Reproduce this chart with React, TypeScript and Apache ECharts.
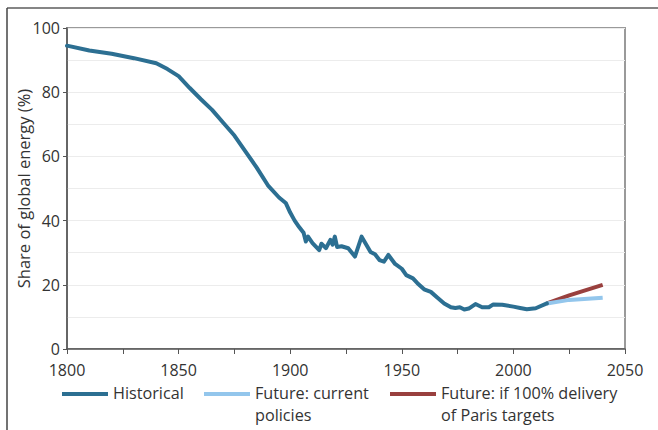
import React, { useEffect, useRef } from "react";
import * as echarts from "echarts";

const histYears = [1800, 1810, 1820, 1830, 1840, 1845, 1850, 1855, 1860, 1865, 1870, 1875, 1880, 1885, 1890, 1895, 1898, 1900, 1902, 1904, 1906, 1907, 1908, 1910, 1913, 1914, 1916, 1918, 1919, 1920, 1921, 1923, 1926, 1929, 1932, 1936, 1938, 1940, 1942, 1944, 1947, 1950, 1952, 1955, 1957, 1960, 1963, 1966, 1969, 1972, 1974, 1976, 1978, 1980, 1983, 1986, 1989, 1991, 1995, 2000, 2003, 2006, 2010, 2015];
const histValues = [94.5, 93, 92, 90.6, 89, 87.2, 85, 81.3, 77.8, 74.5, 70.5, 66.5, 61.5, 56.5, 51, 47.2, 45.5, 42.5, 40, 38, 36.2, 33.5, 35, 33, 30.8, 32.8, 31.4, 34, 32.5, 35, 31.8, 32, 31.4, 28.8, 35, 30.2, 29.5, 27.7, 27.2, 29.3, 26.5, 25, 23, 22, 20.5, 18.6, 17.8, 16, 14.2, 13, 12.8, 13, 12.3, 12.6, 14, 13, 13, 13.9, 13.8, 13.2, 12.8, 12.4, 12.7, 14.2];

const futureYears = [2015, 2025, 2040];
const currentValues = [14.2, 15.3, 16];
const parisValues = [14.2, 16.7, 20];

const seriesNames = ["Historical", "Future: current policies", "Future: if 100% delivery of Paris targets"];
const legendLines = [["Historical"], ["Future: current", "policies"], ["Future: if 100% delivery", "of Paris targets"]];
const colors = ["#2c6f92", "#93c6ec", "#99403e"];

const xTickLabels = [1800, 1850, 1900, 1950, 2000, 2050];
const yTickLabels = [0, 20, 40, 60, 80, 100];

const font = "'Open Sans', sans-serif";

export default function App() {
  const ref = useRef<HTMLDivElement>(null);
  useEffect(() => {
    if (!ref.current) return;
    const chart = echarts.init(ref.current, undefined, { renderer: "svg" });
    const pair = (xs: number[], ys: number[]) => xs.map((x, i) => [x, ys[i]]);
    const legendX = [62, 204, 390];
    const graphic: any[] = [
      { type: "line", shape: { x1: 7, y1: 8, x2: 658, y2: 8 }, style: { stroke: "#858585", lineWidth: 2 } },
      { type: "line", shape: { x1: 7, y1: 8, x2: 7, y2: 430 }, style: { stroke: "#444", lineWidth: 1.5 } },
    ];
    legendLines.forEach((lines, i) => {
      graphic.push({
        type: "line",
        shape: { x1: legendX[i], y1: 394, x2: legendX[i] + 46, y2: 394 },
        style: { stroke: colors[i], lineWidth: 4 },
      });
      lines.forEach((t, j) => {
        graphic.push({
          type: "text",
          x: legendX[i] + 51,
          y: 392.5 + j * 22.3,
          style: { text: t, fill: "#333", font: `16.2px ${font}`, lineHeight: 17, verticalAlign: "middle", align: "left" },
        });
      });
    });
    chart.setOption({
      animation: false,
      grid: { left: 67, right: 33, top: 28, bottom: 81, show: true, borderColor: "#9a9a9a", borderWidth: 2, backgroundColor: "transparent" },
      xAxis: {
        type: "value",
        min: xTickLabels[0],
        max: xTickLabels[xTickLabels.length - 1],
        interval: 50,
        axisLine: { show: true, lineStyle: { color: "#555", width: 1.5 } },
        axisTick: { show: true, inside: false, length: 5, lineStyle: { color: "#555" } },
        minorTick: { show: true, splitNumber: 2, length: 5, lineStyle: { color: "#555" } },
        splitLine: { show: false },
        axisLabel: { color: "#333", fontSize: 16, lineHeight: 18, fontFamily: font, margin: 12, formatter: (v: number) => String(v) },
      },
      yAxis: {
        type: "value",
        min: yTickLabels[0],
        max: yTickLabels[yTickLabels.length - 1],
        interval: 20,
        name: "Share of global energy (%)",
        nameLocation: "middle",
        nameGap: 35,
        nameMoveOverlap: false,
        nameTextStyle: { color: "#333", fontSize: 16.5, fontFamily: font },
        axisLine: { show: true, lineStyle: { color: "#555", width: 1.5 } },
        axisTick: { show: true, inside: false, length: 4, lineStyle: { color: "#555" } },
        splitLine: { show: true, lineStyle: { color: "#ececec", width: 1 } },
        minorSplitLine: { show: true, lineStyle: { color: "#ececec", width: 1 } },
        minorTick: { show: false, splitNumber: 2 },
        axisLabel: { color: "#333", fontSize: 16, lineHeight: 16, fontFamily: font, margin: 7, formatter: (v: number) => String(v) },
      },
      series: [
        { name: seriesNames[2], type: "line", data: pair(futureYears, parisValues), showSymbol: false, lineStyle: { color: colors[2], width: 4 }, itemStyle: { color: colors[2] } },
        { name: seriesNames[1], type: "line", data: pair(futureYears, currentValues), showSymbol: false, lineStyle: { color: colors[1], width: 4 }, itemStyle: { color: colors[1] } },
        { name: seriesNames[0], type: "line", data: pair(histYears, histValues), showSymbol: false, lineStyle: { color: colors[0], width: 4, join: "round", cap: "round" }, itemStyle: { color: colors[0] } },
      ],
      graphic,
    });
    return () => chart.dispose();
  }, []);
  return <div ref={ref} style={{ position: "absolute", left: 0, top: 0, width: 658, height: 430, background: "#fff" }} />;
}
